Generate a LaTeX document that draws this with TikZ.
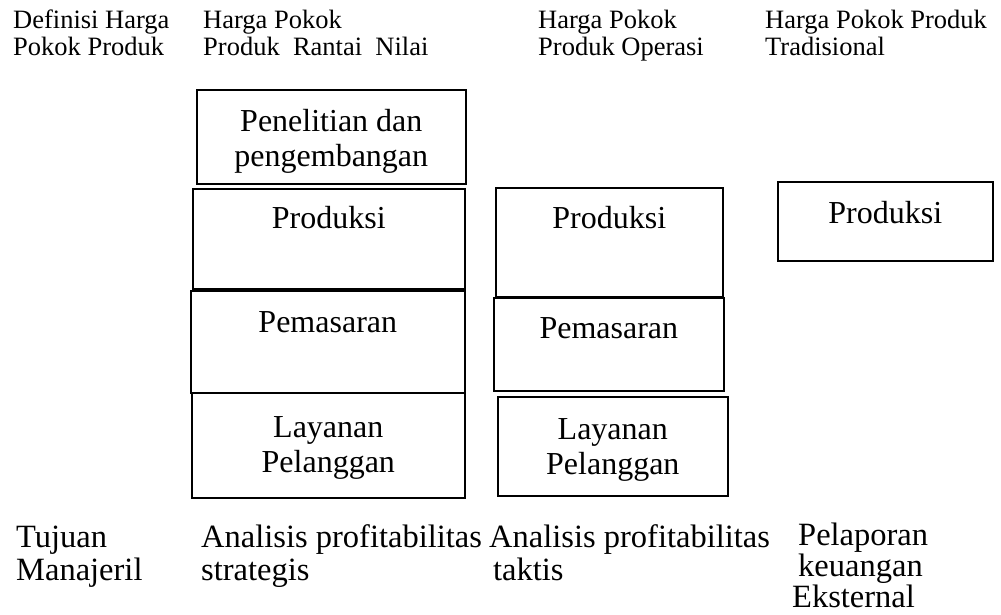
\documentclass[tikz,border=0pt]{standalone}
\usepackage{fontspec}
\setmainfont{Liberation Serif}
\begin{document}
\begin{tikzpicture}[x=1pt,y=-1pt,
  box/.style={draw=black, line width=1.6pt, inner sep=0pt, anchor=north west},
  boxtext/.style={font=\fontsize{32}{35}\selectfont, align=center, anchor=base, inner sep=0pt},
  headtext/.style={font=\fontsize{26.5}{27}\selectfont, align=left, anchor=base west, inner sep=0pt},
  foottext/.style={font=\fontsize{32.5}{33}\selectfont, align=left, anchor=base west, inner sep=0pt}]
\useasboundingbox (0,0) rectangle (1001,614);

% column headings (anchored at the baseline of their last line)
\node[headtext] (h1) at (13,55) {Definisi Harga\\Pokok Produk};
\node[headtext] (h2) at (203,55) {Harga Pokok\\Produk\ \ Rantai\ \ Nilai};
\node[headtext] (h3) at (538,55) {Harga Pokok\\Produk Operasi};
\node[headtext] (h4) at (765,55) {Harga Pokok Produk\\Tradisional};

% value chain column
\node[box, minimum width=269pt, minimum height=94pt]  (p1) at (196,89)  {};
\node[box, minimum width=272pt, minimum height=100pt] (p2) at (192,188) {};
\node[box, minimum width=274pt, minimum height=102pt] (p3) at (190,290) {};
\node[box, minimum width=273pt, minimum height=105pt] (p4) at (191,392) {};
\node[boxtext] (p1t) at ([yshift=-77pt]p1.north) {Penelitian dan\\pengembangan};
\node[boxtext] (p2t) at ([yshift=-40pt]p2.north) {Produksi};
\node[boxtext] (p3t) at ([yshift=-42pt]p3.north) {Pemasaran};
\node[boxtext] (p4t) at ([yshift=-80pt]p4.north) {Layanan\\Pelanggan};

% operational column
\node[box, minimum width=227pt, minimum height=109pt] (q1) at (495,187) {};
\node[box, minimum width=230pt, minimum height=93pt]  (q2) at (493,297) {};
\node[box, minimum width=230pt, minimum height=99pt]  (q3) at (497,396) {};
\node[boxtext] (q1t) at ([yshift=-41pt]q1.north) {Produksi};
\node[boxtext] (q2t) at ([yshift=-41pt]q2.north) {Pemasaran};
\node[boxtext] (q3t) at ([yshift=-78pt]q3.north) {Layanan\\Pelanggan};

% traditional column
\node[box, minimum width=215pt, minimum height=79pt] (r1) at (777,181) {};
\node[boxtext] (r1t) at ([yshift=-42pt]r1.north) {Produksi};

% managerial purposes
\node[foottext] (f1) at (16,580)  {Tujuan\\Manajeril};
\node[foottext] (f2) at (201,580) {Analisis profitabilitas\\strategis};
\node[foottext] (f3) at (489,580) {Analisis profitabilitas\\\hspace*{4pt}taktis};
\node[foottext, font=\fontsize{32.5}{31}\selectfont] (f4) at (798,607)
  {Pelaporan\\keuangan\\\hspace*{-6pt}Eksternal};
\end{tikzpicture}
\end{document}
